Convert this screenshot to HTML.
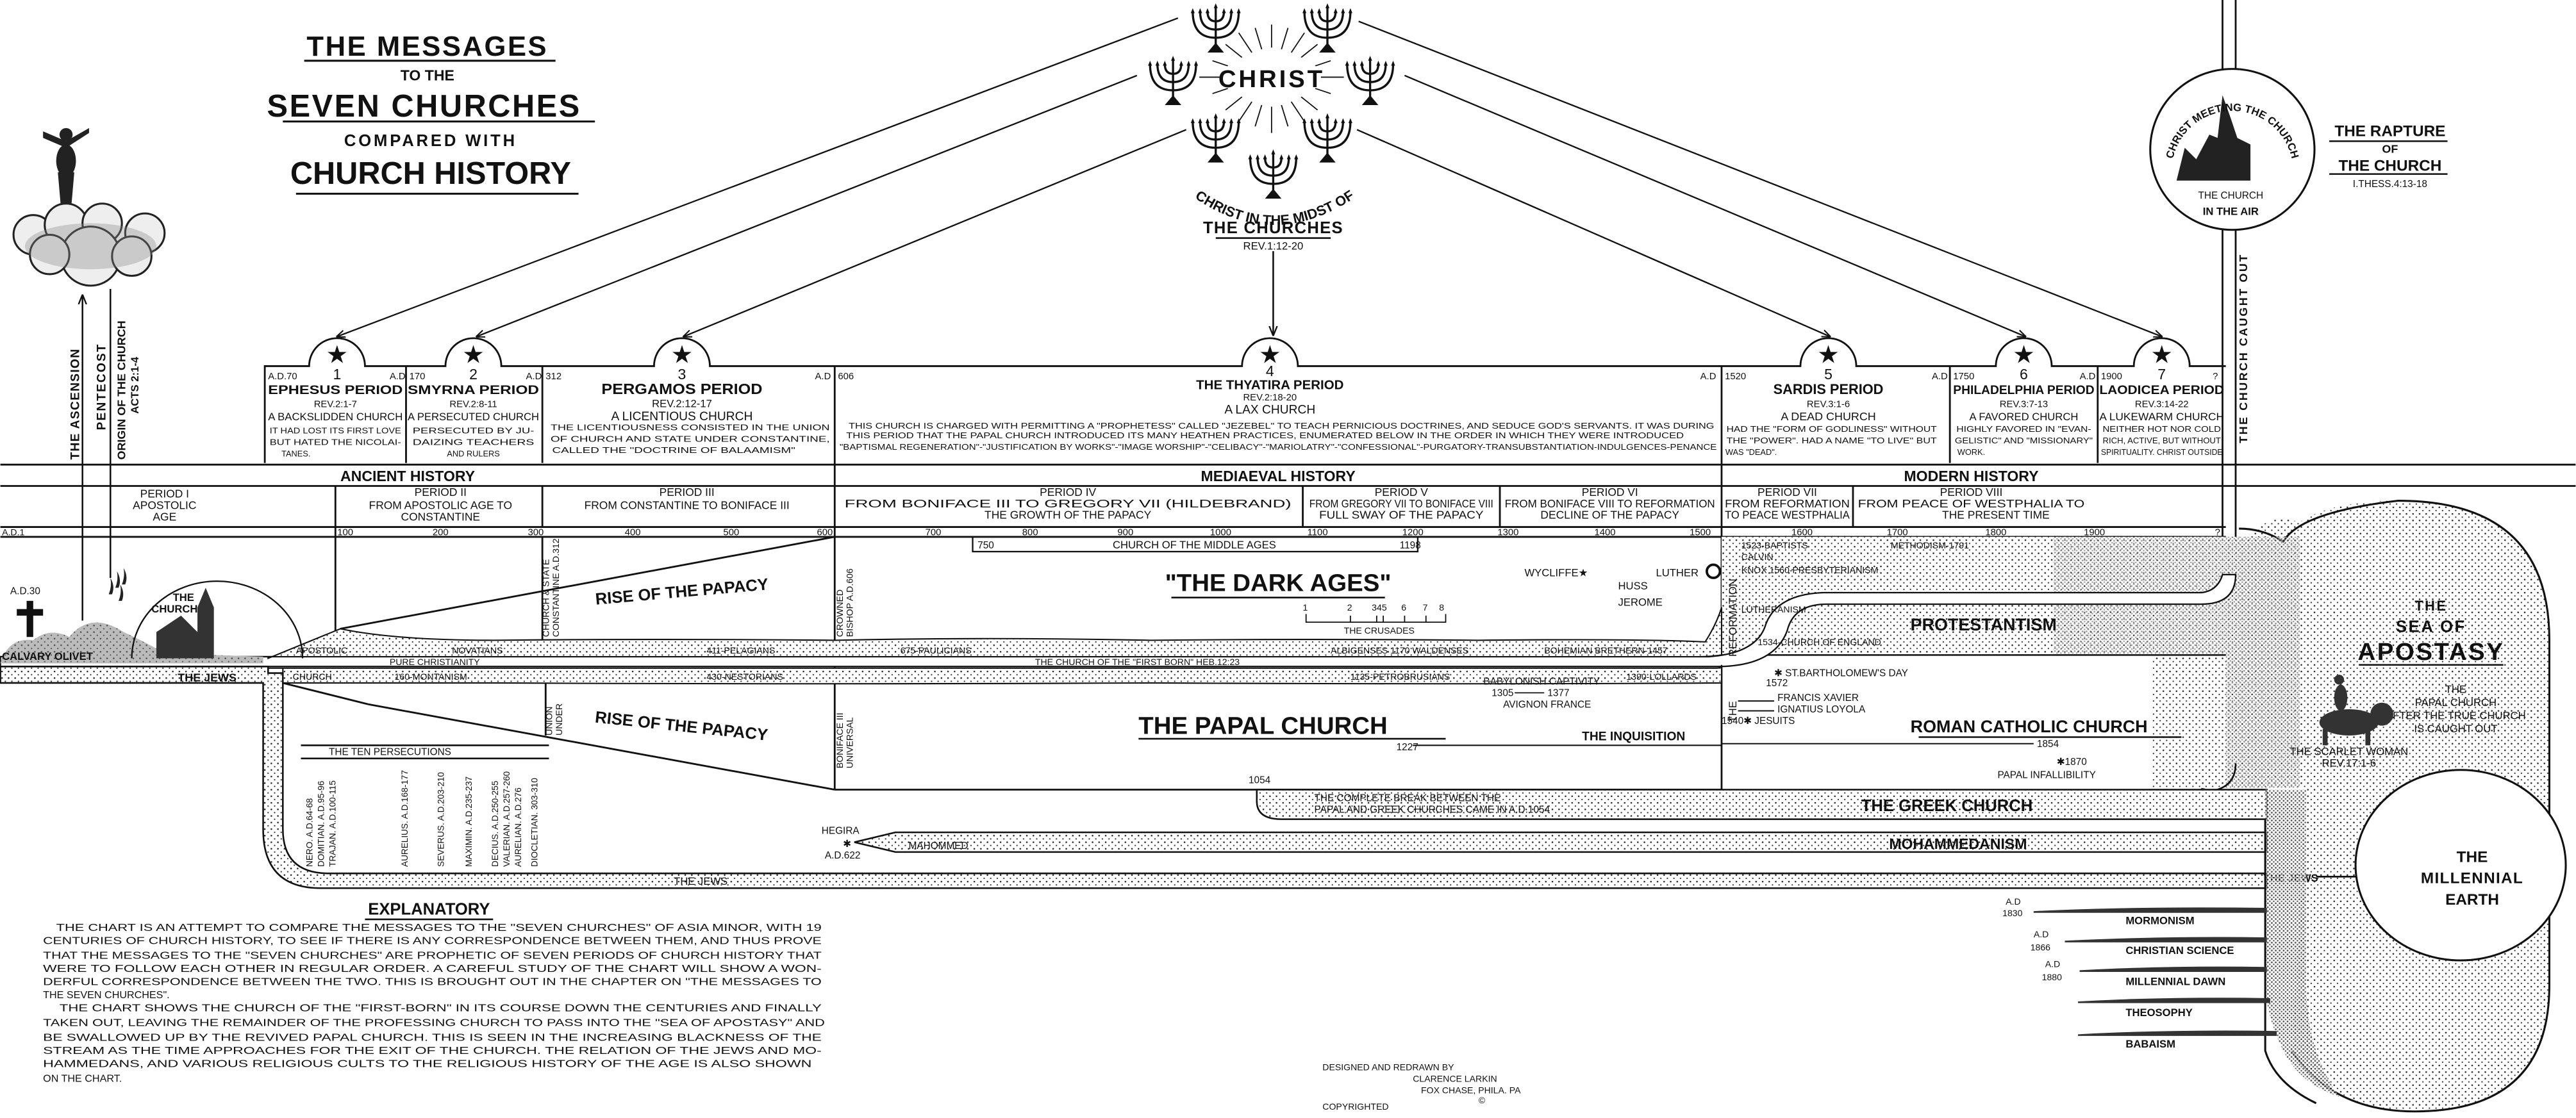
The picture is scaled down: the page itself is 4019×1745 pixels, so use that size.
<!DOCTYPE html>
<html><head><meta charset="utf-8"><style>
html,body{margin:0;padding:0;background:#fff;}
svg{display:block;}
text{font-family:"Liberation Sans",sans-serif;fill:#111;}
.b{font-weight:bold;}
</style></head><body>
<svg width="4019" height="1745" viewBox="0 0 1568 681" xmlns="http://www.w3.org/2000/svg">
<defs>
<pattern id="st" width="4" height="4" patternUnits="userSpaceOnUse"><rect width="4" height="4" fill="#fff"/><circle cx="1" cy="1" r=".5" fill="#222"/><circle cx="3" cy="3" r=".45" fill="#333"/></pattern>
<pattern id="st2" width="2.4" height="2.4" patternUnits="userSpaceOnUse"><rect width="2.4" height="2.4" fill="#fff"/><circle cx=".6" cy=".6" r=".55" fill="#111"/><circle cx="1.8" cy="1.8" r=".5" fill="#222"/></pattern>
<symbol id="men" viewBox="-17 -2 34 32" overflow="visible">
<g fill="none" stroke="#111" stroke-width="1.3">
<path d="M0,0 V24"/><path d="M-14,3 Q-14,19 0,19 Q14,19 14,3"/><path d="M-9.5,3 Q-9.5,14 0,14 Q9.5,14 9.5,3"/><path d="M-5,3 Q-5,9 0,9 Q5,9 5,3"/></g>
<path d="M-5,28 L0,22 L5,28Z" fill="#111"/>
<g fill="#111"><path d="M0,-2l-1.2,3h2.4z"/><path d="M-14,1l-1.2,3h2.4z"/><path d="M14,1l-1.2,3h2.4z"/><path d="M-9.5,1l-1.2,3h2.4z"/><path d="M9.5,1l-1.2,3h2.4z"/><path d="M-5,1l-1.2,3h2.4z"/><path d="M5,1l-1.2,3h2.4z"/></g>
</symbol>
<marker id="ar" viewBox="0 0 10 10" refX="9" refY="5" markerWidth="6" markerHeight="6" orient="auto"><path d="M0,1 L10,5 L0,9" fill="none" stroke="#111" stroke-width="1.5"/></marker>
</defs>

<!-- TITLE -->
<g text-anchor="middle" class="b">
<text x="260" y="34" font-size="17" letter-spacing="1">THE MESSAGES</text>
<line x1="185" y1="37" x2="338" y2="37" stroke="#111" stroke-width="1.2"/>
<text x="260" y="49" font-size="9">TO THE</text>
<text x="258" y="71" font-size="19" letter-spacing="1">SEVEN CHURCHES</text>
<line x1="172" y1="74" x2="362" y2="74" stroke="#111" stroke-width="1.2"/>
<text x="262" y="89" font-size="10" letter-spacing="1.5">COMPARED WITH</text>
<text x="262" y="112" font-size="19">CHURCH HISTORY</text>
<line x1="180" y1="118" x2="352" y2="118" stroke="#111" stroke-width="1.2"/>
</g>

<!-- Ascension figure and cloud -->
<g fill="#222">
<ellipse cx="40" cy="98" rx="6" ry="10"/><circle cx="40" cy="82" r="4"/>
<path d="M26,80 L40,86 L54,78 L54,81 L40,90 L26,84Z"/>
<path d="M35,105 L45,105 L43,128 L37,128Z"/>
</g>
<g fill="#eee" stroke="#222" stroke-width="1.2">
<circle cx="20" cy="143" r="12"/><circle cx="40" cy="137" r="13"/><circle cx="62" cy="136" r="12"/><circle cx="88" cy="142" r="12"/><circle cx="55" cy="156" r="18"/><circle cx="30" cy="155" r="12"/><circle cx="80" cy="156" r="12"/>
</g>
<g fill="#888" opacity=".35"><ellipse cx="55" cy="150" rx="40" ry="14"/></g>
<line x1="50" y1="378" x2="50" y2="180" stroke="#111" stroke-width="1" marker-end="url(#ar)"/>
<line x1="67" y1="176" x2="67" y2="352" stroke="#111" stroke-width="1"/>
<g font-size="7.5" class="b">
<text transform="translate(48,280) rotate(-90)" letter-spacing=".5">THE ASCENSION</text>
<text transform="translate(64,262) rotate(-90)" letter-spacing=".8">PENTECOST</text>
<text transform="translate(76,280) rotate(-90)" font-size="7">ORIGIN OF THE CHURCH</text>
<text transform="translate(84,252) rotate(-90)" font-size="6.5">ACTS 2:1-4</text>
</g>
<g fill="#222"><path d="M70,358 q2,-5 1,-10 q3,5 1,10z"/><path d="M74,356 q2,-5 1,-10 q3,5 1,10z"/><path d="M66,362 q2,-5 1,-10 q3,5 1,10z"/><path d="M72,366 q2,-5 1,-10 q3,5 1,10z"/></g>

<!-- CHRIST center -->
<g stroke="#111" stroke-width=".7">
<g transform="translate(774,47)">
<path d="M0,-32V-18M10,-30L6,-17M20,-27L12,-15M-10,-30L-6,-17M-20,-27L-12,-15M28,-20L18,-12M-28,-20L-18,-12M36,-10L24,-6M-36,-10L-24,-6M44,0H30M-44,0H-30M36,10L24,6M-36,10L-24,6M28,20L18,12M-28,20L-18,12M20,27L12,15M-20,27L-12,15M10,30L6,17M-10,30L-6,17M0,34V18"/>
</g></g>
<ellipse cx="774" cy="47" rx="30" ry="15" fill="#fff"/>
<text x="774" y="53" font-size="15" text-anchor="middle" class="b" letter-spacing="1.5">CHRIST</text>
<use href="#men" x="723" y="2" width="34" height="32"/>
<use href="#men" x="791" y="2" width="34" height="32"/>
<use href="#men" x="697" y="34" width="34" height="32"/>
<use href="#men" x="817" y="34" width="34" height="32"/>
<use href="#men" x="723" y="69" width="34" height="32"/>
<use href="#men" x="791" y="69" width="34" height="32"/>
<use href="#men" x="758" y="91" width="34" height="32"/>
<path id="arcp" d="M716,112 Q775,162 836,112" fill="none"/>
<text font-size="8.5" class="b" text-anchor="middle"><textPath href="#arcp" startOffset="50%">CHRIST IN THE MIDST OF</textPath></text>
<text x="775" y="142" font-size="10" text-anchor="middle" class="b" letter-spacing=".5">THE CHURCHES</text>
<line x1="740" y1="145" x2="810" y2="145" stroke="#111" stroke-width="1"/>
<text x="775" y="152" font-size="6.5" text-anchor="middle">REV.1:12-20</text>
<line x1="775" y1="153" x2="775" y2="204" stroke="#111" stroke-width="1" marker-end="url(#ar)"/>

<!-- lines to churches -->
<g stroke="#111" stroke-width=".9" fill="none" marker-end="url(#ar)">
<line x1="717" y1="11" x2="205" y2="205"/>
<line x1="692" y1="46" x2="290" y2="205"/>
<line x1="722" y1="79" x2="416" y2="205"/>
<line x1="827" y1="13" x2="1316" y2="205"/>
<line x1="855" y1="46" x2="1233" y2="205"/>
<line x1="826" y1="79" x2="1114" y2="205"/>
</g>

<!-- Header boxes -->
<g fill="none" stroke="#111" stroke-width="1.1">
<path d="M161,282 V223 H188 A17,17 0 0 1 222,223 H271 A17,17 0 0 1 305,223 H398 A17,17 0 0 1 432,223 H756 A17,17 0 0 1 790,223 H1096 A17,17 0 0 1 1130,223 H1215 A17,17 0 0 1 1249,223 H1299 A17,17 0 0 1 1333,223 H1355"/>
<line x1="247" y1="223" x2="247" y2="282"/>
<line x1="330" y1="223" x2="330" y2="282"/>
<line x1="508" y1="223" x2="508" y2="481"/>
<line x1="1048" y1="223" x2="1048" y2="481"/>
<line x1="1187" y1="223" x2="1187" y2="282"/>
<line x1="1277" y1="223" x2="1277" y2="282"/>
<line x1="0" y1="283" x2="1568" y2="283"/>
<line x1="0" y1="296" x2="1568" y2="296"/>
<line x1="0" y1="321" x2="1355" y2="321"/>
<line x1="0" y1="327" x2="1355" y2="327"/>
<line x1="204" y1="296" x2="204" y2="392"/>
<line x1="330" y1="296" x2="330" y2="321"/>
<line x1="793" y1="296" x2="793" y2="321"/>
<line x1="913" y1="296" x2="913" y2="321"/>
<line x1="1128" y1="296" x2="1128" y2="321"/>
</g>
<g stroke="#111" stroke-width="1.1" fill="none">
<path d="M1353,0 V43"/><path d="M1361,0 V43"/>
<path d="M1353,139 V468 Q1353,478 1340,480"/><path d="M1361,139 V470"/>
</g>
<text transform="translate(1368,270) rotate(-90)" font-size="7" class="b" letter-spacing="1">THE CHURCH CAUGHT OUT</text>
<g font-size="15" text-anchor="middle">
<text x="205" y="221">★</text><text x="288" y="221">★</text><text x="415" y="221">★</text><text x="773" y="221">★</text><text x="1113" y="221">★</text><text x="1232" y="221">★</text><text x="1316" y="221">★</text>
</g>
<g font-size="5.8">
<text x="163" y="231">A.D.70</text><text x="237" y="231">A.D</text><text x="249" y="231">170</text><text x="320" y="231">A.D</text><text x="332" y="231">312</text><text x="496" y="231">A.D</text><text x="510" y="231">606</text>
<text x="1035" y="231">A.D</text><text x="1050" y="231">1520</text><text x="1176" y="231">A.D</text><text x="1189" y="231">1750</text><text x="1266" y="231">A.D</text><text x="1279" y="231">1900</text><text x="1347" y="231">?</text>
</g>
<g text-anchor="middle">
<g font-size="9"><text x="205" y="231">1</text><text x="288" y="231">2</text><text x="415" y="231">3</text><text x="773" y="229">4</text><text x="1113" y="231">5</text><text x="1232" y="231">6</text><text x="1316" y="231">7</text></g>
<g font-size="7.5" class="b">
<text x="204" y="240" textLength="82" lengthAdjust="spacingAndGlyphs">EPHESUS PERIOD</text>
<text x="288" y="240" textLength="80" lengthAdjust="spacingAndGlyphs">SMYRNA PERIOD</text>
<text x="415" y="240" font-size="9" textLength="98" lengthAdjust="spacingAndGlyphs">PERGAMOS PERIOD</text>
<text x="773" y="237" font-size="8">THE THYATIRA PERIOD</text>
<text x="1113" y="240" font-size="8.5">SARDIS PERIOD</text>
<text x="1232" y="240" textLength="86" lengthAdjust="spacingAndGlyphs">PHILADELPHIA PERIOD</text>
<text x="1316" y="240" textLength="76" lengthAdjust="spacingAndGlyphs">LAODICEA PERIOD</text>
</g>
<g font-size="5.8">
<text x="204" y="248">REV.2:1-7</text><text x="288" y="248">REV.2:8-11</text><text x="415" y="248" font-size="6.5">REV.2:12-17</text><text x="773" y="244">REV.2:18-20</text><text x="1113" y="248">REV.3:1-6</text><text x="1232" y="248">REV.3:7-13</text><text x="1316" y="248">REV.3:14-22</text>
</g>
<g font-size="6.5">
<text x="204" y="256" textLength="82" lengthAdjust="spacingAndGlyphs">A BACKSLIDDEN CHURCH</text>
<text x="288" y="256" textLength="80" lengthAdjust="spacingAndGlyphs">A PERSECUTED CHURCH</text>
<text x="415" y="256" font-size="7.5">A LICENTIOUS CHURCH</text>
<text x="773" y="252" font-size="7.5">A LAX CHURCH</text>
<text x="1113" y="256" font-size="7">A DEAD CHURCH</text>
<text x="1232" y="256">A FAVORED CHURCH</text>
<text x="1316" y="256" textLength="76" lengthAdjust="spacingAndGlyphs">A LUKEWARM CHURCH</text>
</g>
<g font-size="5">
<text x="204" y="264" textLength="80" lengthAdjust="spacingAndGlyphs">IT HAD LOST ITS FIRST LOVE</text>
<text x="204" y="271" textLength="80" lengthAdjust="spacingAndGlyphs">BUT HATED THE NICOLAI-</text>
<text x="180" y="278">TANES.</text>
<text x="288" y="264" textLength="74" lengthAdjust="spacingAndGlyphs">PERSECUTED BY JU-</text>
<text x="288" y="271" textLength="74" lengthAdjust="spacingAndGlyphs">DAIZING TEACHERS</text>
<text x="288" y="278">AND RULERS</text>
<text x="420" y="262" textLength="170" lengthAdjust="spacingAndGlyphs">THE LICENTIOUSNESS CONSISTED IN THE UNION</text>
<text x="420" y="269" textLength="170" lengthAdjust="spacingAndGlyphs">OF CHURCH AND STATE UNDER CONSTANTINE,</text>
<text x="410" y="276" textLength="148" lengthAdjust="spacingAndGlyphs">CALLED THE "DOCTRINE OF BALAAMISM"</text>
<text x="780" y="261" textLength="527" lengthAdjust="spacingAndGlyphs">THIS CHURCH IS CHARGED WITH PERMITTING A "PROPHETESS" CALLED "JEZEBEL" TO TEACH PERNICIOUS DOCTRINES, AND SEDUCE GOD'S SERVANTS. IT WAS DURING</text>
<text x="770" y="267" textLength="510" lengthAdjust="spacingAndGlyphs">THIS PERIOD THAT THE PAPAL CHURCH INTRODUCED ITS MANY HEATHEN PRACTICES, ENUMERATED BELOW IN THE ORDER IN WHICH THEY WERE INTRODUCED</text>
<text x="778" y="274" textLength="534" lengthAdjust="spacingAndGlyphs">"BAPTISMAL REGENERATION"-"JUSTIFICATION BY WORKS"-"IMAGE WORSHIP"-"CELIBACY"-"MARIOLATRY"-"CONFESSIONAL"-PURGATORY-TRANSUBSTANTIATION-INDULGENCES-PENANCE</text>
<text x="1115" y="263" textLength="128" lengthAdjust="spacingAndGlyphs">HAD THE "FORM OF GODLINESS" WITHOUT</text>
<text x="1115" y="270" textLength="128" lengthAdjust="spacingAndGlyphs">THE "POWER". HAD A NAME "TO LIVE" BUT</text>
<text x="1066" y="277">WAS "DEAD".</text>
<text x="1232" y="263" textLength="82" lengthAdjust="spacingAndGlyphs">HIGHLY FAVORED IN "EVAN-</text>
<text x="1232" y="270" textLength="84" lengthAdjust="spacingAndGlyphs">GELISTIC" AND "MISSIONARY"</text>
<text x="1200" y="277">WORK.</text>
<text x="1316" y="263" textLength="72" lengthAdjust="spacingAndGlyphs">NEITHER HOT NOR COLD</text>
<text x="1316" y="270" textLength="72" lengthAdjust="spacingAndGlyphs">RICH, ACTIVE, BUT WITHOUT</text>
<text x="1316" y="277" textLength="74" lengthAdjust="spacingAndGlyphs">SPIRITUALITY. CHRIST OUTSIDE</text>
</g>
<g font-size="9" class="b">
<text x="248" y="293">ANCIENT HISTORY</text>
<text x="778" y="293">MEDIAEVAL HISTORY</text>
<text x="1200" y="293">MODERN HISTORY</text>
</g>
<g font-size="6.8">
<text x="100" y="303">PERIOD I</text><text x="100" y="310">APOSTOLIC</text><text x="100" y="317">AGE</text>
<text x="268" y="302">PERIOD II</text><text x="268" y="310">FROM APOSTOLIC AGE TO</text><text x="268" y="317">CONSTANTINE</text>
<text x="418" y="302">PERIOD III</text><text x="418" y="310">FROM CONSTANTINE TO BONIFACE III</text>
<text x="650" y="302">PERIOD IV</text><text x="650" y="309" textLength="272" lengthAdjust="spacingAndGlyphs">FROM BONIFACE III TO GREGORY VII (HILDEBRAND)</text><text x="650" y="316">THE GROWTH OF THE PAPACY</text>
<text x="853" y="302">PERIOD V</text><text x="853" y="309" textLength="112" lengthAdjust="spacingAndGlyphs">FROM GREGORY VII TO BONIFACE VIII</text><text x="853" y="316" textLength="100" lengthAdjust="spacingAndGlyphs">FULL SWAY OF THE PAPACY</text>
<text x="980" y="302">PERIOD VI</text><text x="980" y="309" textLength="128" lengthAdjust="spacingAndGlyphs">FROM BONIFACE VIII TO REFORMATION</text><text x="980" y="316">DECLINE OF THE PAPACY</text>
<text x="1088" y="302">PERIOD VII</text><text x="1088" y="309" textLength="76" lengthAdjust="spacingAndGlyphs">FROM REFORMATION</text><text x="1088" y="316" textLength="76" lengthAdjust="spacingAndGlyphs">TO PEACE WESTPHALIA</text>
<text x="1200" y="302">PERIOD VIII</text><text x="1200" y="309" textLength="138" lengthAdjust="spacingAndGlyphs">FROM PEACE OF WESTPHALIA TO</text><text x="1215" y="316">THE PRESENT TIME</text>
</g>
<g font-size="5.8">
<text x="210" y="326">100</text><text x="268" y="326">200</text><text x="326" y="326">300</text><text x="385" y="326">400</text><text x="445" y="326">500</text><text x="502" y="326">600</text><text x="568" y="326">700</text><text x="627" y="326">800</text><text x="685" y="326">900</text><text x="743" y="326">1000</text><text x="802" y="326">1100</text><text x="860" y="326">1200</text><text x="918" y="326">1300</text><text x="977" y="326">1400</text><text x="1035" y="326">1500</text><text x="1097" y="326">1600</text><text x="1155" y="326">1700</text><text x="1215" y="326">1800</text><text x="1275" y="326">1900</text><text x="1350" y="326">?</text>
</g>
</g>
<text x="1" y="326" font-size="5.5">A.D.1</text>

<!-- SEA OF APOSTASY -->
<path d="M1330,327 H1370 Q1380,312 1400,318 Q1420,305 1460,305 Q1552,305 1552,390 V600 Q1552,677 1470,677 Q1420,677 1395,640 L1404,498 L1404,480 L1330,480Z" fill="url(#st)" stroke="none"/>
<path d="M1363,322 Q1378,322 1390,330 Q1400,312 1460,305 Q1552,305 1552,390 V600 Q1552,677 1470,677 Q1420,677 1395,640" fill="none" stroke="#111" stroke-width="1.2"/>
<path d="M1310,327 H1400 L1400,480 H1310Z" fill="url(#st2)" opacity=".45"/>
<path d="M1048,327 H1355 V399 H1048Z" fill="url(#st)"/>
<path d="M1250,327 H1355 V399 H1250Z" fill="url(#st2)" opacity=".4"/>
<path d="M1310,399 H1355 V480 H1310Z" fill="url(#st)"/>
<line x1="1048" y1="399" x2="1355" y2="399" stroke="#111" stroke-width="1"/>
<path d="M0,400 L170,400 Q300,400 500,400 L1040,400 Q1070,398 1075,380 Q1082,362 1110,361 L1340,361 Q1350,360 1353,350 L1361,350 Q1361,368 1340,368 L1112,368 Q1092,368 1088,384 Q1080,406 1045,406 L170,406 L0,406Z" fill="#fff" stroke="#111" stroke-width=".9"/>
<path d="M1361,465 Q1361,480 1345,482" fill="none" stroke="#111"/>
<path d="M163,401 L207,383 Q240,390 300,390 Q400,389 508,390 Q600,388 700,390 Q800,389 900,390 Q1000,389 1038,391 Q1045,380 1048,370 L1048,399 Q1040,400 1035,400 L163,400Z" fill="url(#st)" stroke="#111" stroke-width=".8"/>
<path d="M163,407 L1045,407 Q1048,407 1048,405 L1048,416 Q900,417 700,416 Q500,417 300,416 L172,416 L172,407Z" fill="url(#st)" stroke="#111" stroke-width=".8"/>
<path d="M0,406 H163 V410 H172 V505 Q172,532 200,532 H1380 V541 H195 Q160,541 160,505 V416 H0Z" fill="url(#st)" stroke="#111" stroke-width="1"/>
<text x="108" y="415" font-size="7" class="b">THE JEWS</text>
<text x="410" y="539" font-size="6.5">THE JEWS</text>
<g stroke="#111" stroke-width="1.1" fill="none">
<line x1="207" y1="383" x2="508" y2="327"/>
<line x1="172" y1="416" x2="224" y2="429"/>
<line x1="224" y1="429" x2="508" y2="481"/>
<line x1="508" y1="481" x2="1048" y2="481"/>
<line x1="330" y1="327" x2="330" y2="390"/>
<line x1="332" y1="416" x2="332" y2="448"/>
</g>
<g font-size="10" class="b">
<text x="362" y="365" transform="rotate(-5 400 360)">RISE OF THE PAPACY</text>
<text x="362" y="444" transform="rotate(6 400 440)">RISE OF THE PAPACY</text>
</g>
<g font-size="5.5">
<text transform="translate(334,388) rotate(-90)">CHURCH &amp; STATE</text>
<text transform="translate(340,388) rotate(-90)">CONSTANTINE A.D.312</text>
<text transform="translate(336,448) rotate(-90)">UNION</text>
<text transform="translate(342,448) rotate(-90)">UNDER</text>
<text transform="translate(513,388) rotate(-90)">CROWNED</text>
<text transform="translate(519,388) rotate(-90)">BISHOP A.D.606</text>
<text transform="translate(513,468) rotate(-90)">BONIFACE III</text>
<text transform="translate(519,468) rotate(-90)">UNIVERSAL</text>
</g>
<g font-size="5.5">
<text x="180" y="398">APOSTOLIC</text><text x="275" y="398">NOVATIANS</text><text x="430" y="398">411-PELAGIANS</text><text x="548" y="398">675-PAULICIANS</text><text x="810" y="398">ALBIGENSES 1170 WALDENSES</text><text x="940" y="398">BOHEMIAN BRETHERN-1457</text>
<text x="237" y="405">PURE CHRISTIANITY</text><text x="630" y="405">THE CHURCH OF THE "FIRST BORN" HEB.12:23</text>
<text x="178" y="414">CHURCH</text><text x="240" y="414">160-MONTANISM</text><text x="430" y="414">430-NESTORIANS</text><text x="822" y="414">1135-PETROBRUSIANS</text><text x="990" y="414">1390-LOLLARDS</text>
</g>
<path d="M0,404 Q5,388 20,390 Q30,382 42,388 Q55,372 75,385 Q90,392 100,398 L160,400 L160,404Z" fill="#777"/>
<path d="M0,404 Q5,388 20,390 Q30,382 42,388 Q55,372 75,385 Q90,392 100,398 L160,400 L160,404Z" fill="url(#st)" opacity=".5"/>
<rect x="16" y="366" width="4" height="22" fill="#111"/><rect x="10" y="371" width="16" height="4" fill="#111"/>
<text x="6" y="362" font-size="6">A.D.30</text>
<text x="1" y="402" font-size="6.5" class="b" fill="#fff">CALVARY OLIVET</text>
<path d="M80,401 A52,47 0 0 1 184,401" fill="none" stroke="#111" stroke-width=".9"/>
<path d="M95,401 V385 L110,375 L120,385 V370 L125,358 L130,370 V401Z" fill="#333"/>
<text x="105" y="366" font-size="6.5" class="b">THE</text><text x="92" y="373" font-size="6.5" class="b">CHURCH</text>

<rect x="592" y="327" width="271" height="9" fill="none" stroke="#111" stroke-width=".9"/>
<text x="595" y="334" font-size="6">750</text><text x="852" y="334" font-size="6">1198</text>
<text x="727" y="334" font-size="6.5" text-anchor="middle">CHURCH OF THE MIDDLE AGES</text>
<text x="778" y="360" font-size="15" class="b" text-anchor="middle">"THE DARK AGES"</text>
<line x1="713" y1="364" x2="843" y2="364" stroke="#111"/>
<g font-size="5.5"><text x="793" y="372">1</text><text x="820" y="372">2</text><text x="835" y="372">345</text><text x="853" y="372">6</text><text x="866" y="372">7</text><text x="876" y="372">8</text></g>
<path d="M795,374 V379 H880 V374 M822,375V379 M838,375V379 M842,375V379 M855,375V379 M868,375V379" fill="none" stroke="#111" stroke-width=".7"/>
<text x="818" y="386" font-size="5.5">THE CRUSADES</text>
<g font-size="6.5"><text x="928" y="351">WYCLIFFE★</text><text x="985" y="359">HUSS</text><text x="985" y="369">JEROME</text><text x="1008" y="351">LUTHER</text></g>
<circle cx="1043" cy="348" r="4" fill="#fff" stroke="#111" stroke-width="1.5"/>
<text transform="translate(1057,400) rotate(-90)" font-size="6.5">REFORMATION</text>
<text transform="translate(1057,440) rotate(-90)" font-size="6.5">THE</text>
<g font-size="5.5"><text x="1060" y="334">1523-BAPTISTS</text><text x="1060" y="341">CALVIN</text><text x="1060" y="349">KNOX 1560-PRESBYTERIANISM</text><text x="1151" y="334">METHODISM-1791</text><text x="1060" y="373">LUTHERANISM</text><text x="1070" y="393">1534-CHURCH OF ENGLAND</text></g>
<text x="1163" y="384" font-size="10.5" class="b">PROTESTANTISM</text>
<g font-size="6"><text x="1080" y="412">✱ ST.BARTHOLOMEW'S DAY</text><text x="1075" y="418">1572</text><text x="1082" y="427">FRANCIS XAVIER</text><text x="1082" y="434">IGNATIUS LOYOLA</text><text x="1048" y="441">1540✱ JESUITS</text></g>
<g stroke="#111" stroke-width=".8"><line x1="1058" y1="427" x2="1080" y2="427"/><line x1="1058" y1="433" x2="1080" y2="433"/><line x1="1048" y1="453" x2="1238" y2="453"/><line x1="860" y1="454" x2="1048" y2="454"/></g>
<text x="1163" y="446" font-size="10.5" class="b">ROMAN CATHOLIC CHURCH</text>
<line x1="1168" y1="449" x2="1328" y2="449" stroke="#111"/>
<g font-size="6"><text x="1240" y="455">1854</text><text x="1252" y="466">✱1870</text><text x="1216" y="474">PAPAL INFALLIBILITY</text></g>
<text x="693" y="447" font-size="15" class="b">THE PAPAL CHURCH</text>
<line x1="693" y1="450" x2="880" y2="450" stroke="#111"/>
<g font-size="6"><text x="903" y="417">BABYLONISH CAPTIVITY</text><text x="908" y="424">1305</text><text x="942" y="424">1377</text><text x="915" y="431">AVIGNON FRANCE</text><text x="850" y="457">1227</text></g>
<line x1="922" y1="422" x2="940" y2="422" stroke="#111" stroke-width=".7"/>
<text x="963" y="451" font-size="7.5" class="b">THE INQUISITION</text>

<path d="M765,481 H1380 V499 H780 Q765,499 765,488Z" fill="url(#st)" stroke="#111" stroke-width="1"/>
<g font-size="6"><text x="760" y="477">1054</text><text x="800" y="488">THE COMPLETE BREAK BETWEEN THE</text><text x="800" y="495">PAPAL AND GREEK CHURCHES CAME IN A.D.1054</text></g>
<text x="1133" y="494" font-size="10" class="b">THE GREEK CHURCH</text>
<path d="M520,513 L545,507 H1380 V519 H545Z" fill="url(#st)" stroke="#111" stroke-width="1"/>
<text x="553" y="517" font-size="6">MAHOMMED</text>
<text x="1150" y="517" font-size="9" class="b">MOHAMMEDANISM</text>
<g font-size="6"><text x="500" y="508">HEGIRA</text><text x="502" y="523">A.D.622</text><text x="513" y="516">✱</text></g>
<text x="1378" y="537" font-size="6.5" class="b">THE JEWS</text>
<line x1="1410" y1="534" x2="1448" y2="534" stroke="#111" marker-end="url(#ar)"/>
<path d="M1379,481 H1404 V600 Q1404,640 1424,668 Q1400,660 1390,640 Q1380,620 1379,600Z" fill="url(#st2)" opacity=".7"/>
<path d="M1379,499 V640 Q1385,660 1410,672" fill="none" stroke="#111" stroke-width="1.2"/>
<g fill="#333"><path d="M1238,555 Q1300,552 1380,553 L1380,556 Q1300,556 1238,556Z"/><path d="M1257,573 Q1320,570 1380,571 L1380,574 Q1320,574 1257,574Z"/><path d="M1266,591 Q1320,588 1380,589 L1380,592 Q1320,592 1266,592Z"/><path d="M1265,610 Q1320,607 1382,608 L1382,611 Q1320,611 1265,611Z"/><path d="M1265,630 Q1320,627 1386,628 L1386,631 Q1320,631 1265,631Z"/></g>
<g font-size="6.5" class="b"><text x="1294" y="563">MORMONISM</text><text x="1294" y="581">CHRISTIAN SCIENCE</text><text x="1294" y="600">MILLENNIAL DAWN</text><text x="1294" y="619">THEOSOPHY</text><text x="1294" y="638">BABAISM</text></g>
<g font-size="5.5"><text x="1221" y="551">A.D</text><text x="1219" y="558">1830</text><text x="1238" y="571">A.D</text><text x="1236" y="579">1866</text><text x="1245" y="589">A.D</text><text x="1243" y="597">1880</text></g>

<g text-anchor="middle" class="b">
<text x="1480" y="372" font-size="8.5" letter-spacing="1">THE</text>
<text x="1480" y="385" font-size="10" letter-spacing="1">SEA OF</text>
<text x="1480" y="402" font-size="15" letter-spacing="1">APOSTASY</text>
<line x1="1436" y1="405" x2="1524" y2="405" stroke="#111"/>
<g font-size="6.5" font-weight="normal"><text x="1495" y="422">THE</text><text x="1495" y="430">PAPAL CHURCH</text><text x="1495" y="438">AFTER THE TRUE CHURCH</text><text x="1495" y="446">IS CAUGHT OUT</text>
<text x="1430" y="460">THE SCARLET WOMAN</text><text x="1430" y="467">REV.17:1-6</text></g>
</g>
<g fill="#333"><ellipse cx="1430" cy="440" rx="18" ry="8"/><circle cx="1450" cy="435" r="7"/><rect x="1414" y="444" width="3" height="10"/><rect x="1440" y="444" width="3" height="10"/><ellipse cx="1425" cy="425" rx="4" ry="8"/><circle cx="1424" cy="414" r="3"/></g>
<ellipse cx="1498" cy="527" rx="64" ry="58" fill="#fff" stroke="#111" stroke-width="1.2"/>
<g text-anchor="middle" class="b"><text x="1505" y="525" font-size="9.5">THE</text><text x="1505" y="538" font-size="9.5" letter-spacing=".5">MILLENNIAL</text><text x="1505" y="551" font-size="9.5">EARTH</text></g>

<ellipse cx="1359" cy="91" rx="50" ry="49" fill="#fff" stroke="#111" stroke-width="1.2"/>
<path d="M1325,110 L1330,90 L1337,97 L1345,82 L1350,84 L1353,58 L1358,72 L1362,84 L1370,88 V110Z" fill="#222"/>
<path id="rarc" d="M1323,96 A37,37 0 0 1 1395,96" fill="none"/>
<text font-size="6.5" class="b"><textPath href="#rarc" startOffset="50%" text-anchor="middle">CHRIST MEETING THE CHURCH</textPath></text>
<text x="1358" y="121" font-size="6" text-anchor="middle">THE CHURCH</text>
<text x="1358" y="131" font-size="6.5" text-anchor="middle" class="b">IN THE AIR</text>
<g text-anchor="middle" class="b"><text x="1455" y="83" font-size="9.5">THE RAPTURE</text><line x1="1418" y1="86" x2="1490" y2="86" stroke="#111"/><text x="1455" y="93" font-size="7">OF</text><text x="1455" y="104" font-size="9.5">THE CHURCH</text><line x1="1418" y1="106" x2="1490" y2="106" stroke="#111"/><text x="1455" y="114" font-size="6" font-weight="normal">I.THESS.4:13-18</text></g>

<g stroke="#111" stroke-width="1"><line x1="183" y1="454" x2="334" y2="454"/><line x1="183" y1="462" x2="334" y2="462"/></g>
<text x="200" y="460" font-size="6">THE TEN PERSECUTIONS</text>
<g font-size="5.3">
<text transform="translate(190,528) rotate(-90)">NERO. A.D.64-68</text>
<text transform="translate(197,528) rotate(-90)">DOMITIAN. A.D.95-96</text>
<text transform="translate(204,528) rotate(-90)">TRAJAN. A.D.100-115</text>
<text transform="translate(248,528) rotate(-90)">AURELIUS. A.D.168-177</text>
<text transform="translate(270,528) rotate(-90)">SEVERUS. A.D.203-210</text>
<text transform="translate(287,528) rotate(-90)">MAXIMIN. A.D.235-237</text>
<text transform="translate(303,528) rotate(-90)">DECIUS. A.D.250-255</text>
<text transform="translate(310,528) rotate(-90)">VALERIAN. A.D.257-260</text>
<text transform="translate(317,528) rotate(-90)">AURELIAN. A.D.276</text>
<text transform="translate(327,528) rotate(-90)">DIOCLETIAN. 303-310</text>
</g>

<text x="261" y="557" font-size="10" class="b" text-anchor="middle">EXPLANATORY</text>
<line x1="222" y1="560" x2="300" y2="560" stroke="#111"/>
<g font-size="6.3">
<text x="34" y="567" textLength="466" lengthAdjust="spacingAndGlyphs">THE CHART IS AN ATTEMPT TO COMPARE THE MESSAGES TO THE "SEVEN CHURCHES" OF ASIA MINOR, WITH 19</text>
<text x="26" y="575" textLength="474" lengthAdjust="spacingAndGlyphs">CENTURIES OF CHURCH HISTORY, TO SEE IF THERE IS ANY CORRESPONDENCE BETWEEN THEM, AND THUS PROVE</text>
<text x="26" y="584" textLength="474" lengthAdjust="spacingAndGlyphs">THAT THE MESSAGES TO THE "SEVEN CHURCHES" ARE PROPHETIC OF SEVEN PERIODS OF CHURCH HISTORY THAT</text>
<text x="26" y="592" textLength="474" lengthAdjust="spacingAndGlyphs">WERE TO FOLLOW EACH OTHER IN REGULAR ORDER. A CAREFUL STUDY OF THE CHART WILL SHOW A WON-</text>
<text x="26" y="600" textLength="474" lengthAdjust="spacingAndGlyphs">DERFUL CORRESPONDENCE BETWEEN THE TWO. THIS IS BROUGHT OUT IN THE CHAPTER ON "THE MESSAGES TO</text>
<text x="26" y="608">THE SEVEN CHURCHES".</text>
<text x="36" y="616" textLength="464" lengthAdjust="spacingAndGlyphs">THE CHART SHOWS THE CHURCH OF THE "FIRST-BORN" IN ITS COURSE DOWN THE CENTURIES AND FINALLY</text>
<text x="26" y="625" textLength="476" lengthAdjust="spacingAndGlyphs">TAKEN OUT, LEAVING THE REMAINDER OF THE PROFESSING CHURCH TO PASS INTO THE "SEA OF APOSTASY" AND</text>
<text x="26" y="634" textLength="474" lengthAdjust="spacingAndGlyphs">BE SWALLOWED UP BY THE REVIVED PAPAL CHURCH. THIS IS SEEN IN THE INCREASING BLACKNESS OF THE</text>
<text x="26" y="642" textLength="474" lengthAdjust="spacingAndGlyphs">STREAM AS THE TIME APPROACHES FOR THE EXIT OF THE CHURCH.   THE RELATION OF THE JEWS AND MO-</text>
<text x="26" y="650" textLength="468" lengthAdjust="spacingAndGlyphs">HAMMEDANS, AND VARIOUS RELIGIOUS CULTS TO THE RELIGIOUS HISTORY OF THE AGE IS ALSO SHOWN</text>
<text x="26" y="659">ON THE CHART.</text>
</g>
<g font-size="5.5"><text x="805" y="652">DESIGNED AND REDRAWN BY</text><text x="860" y="659">CLARENCE LARKIN</text><text x="865" y="666">FOX CHASE, PHILA. PA</text><text x="805" y="676">COPYRIGHTED</text><text x="900" y="672">©</text></g>
</svg>
</body></html>
